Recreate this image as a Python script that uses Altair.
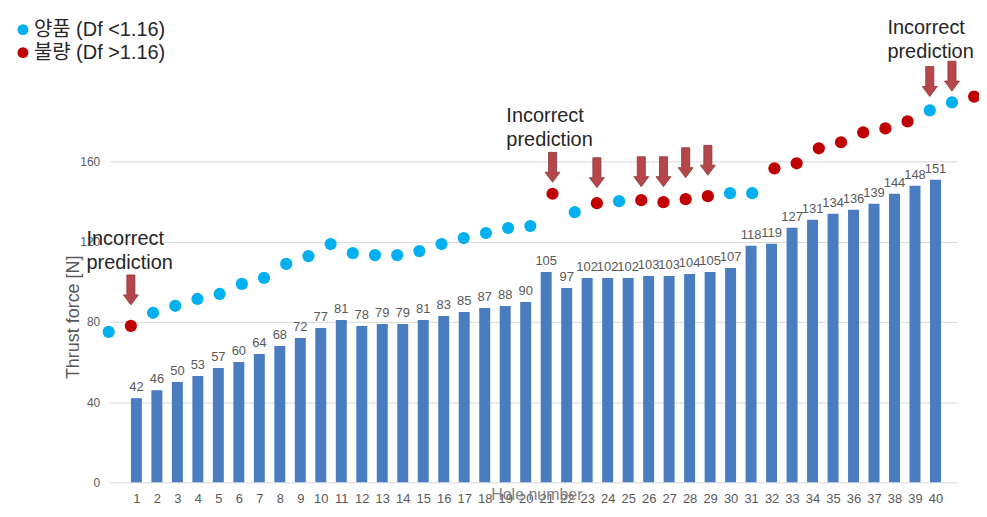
import altair as alt
import pandas as pd

# ---------------- data ----------------
holes = [1, 2, 3, 4, 5, 6, 7, 8, 9, 10, 11, 12, 13, 14, 15, 16, 17, 18, 19, 20,
         21, 22, 23, 24, 25, 26, 27, 28, 29, 30, 31, 32, 33, 34, 35, 36, 37, 38, 39, 40]
thrust = [42, 46, 50, 53, 57, 60, 64, 68, 72, 77, 81, 78, 79, 79, 81, 83, 85, 87, 88, 90,
          105, 97, 102, 102, 102, 103, 103, 104, 105, 107, 118, 119, 127, 131, 134, 136, 139, 144, 148, 151]

# overlay dots (classification result), read on the same force axis
dot_force = [75.1, 78.1, 84.6, 88.1, 91.5, 94.0, 99.0, 102.0, 109.0, 112.9,
             118.9, 114.4, 113.4, 113.4, 115.4, 118.9, 121.9, 124.4, 126.9, 127.9,
             144.0, 134.8, 139.3, 140.3, 140.8, 139.8, 141.3, 142.8, 144.3, 144.3,
             156.7, 159.2, 166.7, 169.7, 174.6, 176.6, 180.1, 185.6, 189.6, 192.5]
dot_class = ["g", "b", "g", "g", "g", "g", "g", "g", "g", "g",
             "g", "g", "g", "g", "g", "g", "g", "g", "g", "g",
             "b", "g", "b", "g", "b", "b", "b", "b", "g", "g",
             "b", "b", "b", "b", "b", "b", "b", "g", "g", "b"]

arrow_holes = [2, 21, 23, 25, 26, 27, 28, 38, 39]
arrow_force = [96.0, 157.2, 154.5, 155.0, 155.0, 159.5, 160.7, 200.0, 202.7]

note_hole = [0.0, 18.92, 36.09]
note_force = [118.4, 179.6, 223.9]
note_text = ["Incorrect\nprediction", "Incorrect\nprediction", "Incorrect\nprediction"]

GOOD = "양품 (Df <1.16)"
BAD = "불량 (Df >1.16)"

y_ticks = [0, 40, 80, 120, 160]

# ---------------- tables ----------------
bars_df = pd.DataFrame({"hole": holes, "thrust": thrust})
dots_df = pd.DataFrame({"hole": holes, "thrust": dot_force,
                        "class": [GOOD if c == "g" else BAD for c in dot_class]})
arrows_df = pd.DataFrame({"hole": arrow_holes, "thrust": arrow_force})
notes_df = pd.DataFrame({"hole": note_hole, "thrust": note_force, "text": note_text})

FONT = "Liberation Sans, Arial, Noto Sans CJK KR, sans-serif"

y_scale = alt.Scale(domain=[0, 200], nice=False, zero=True)
x_main = alt.Scale(domain=[-0.06, 40.81], nice=False, zero=False)
x_dot = alt.Scale(domain=[1.045, 39.23], nice=False, zero=False)

y_axis = alt.Axis(values=y_ticks, title="Thrust force [N]", grid=True, gridColor="#d9d9d9",
                  domain=False, ticks=False, labelPadding=10, labelFontSize=12,
                  labelColor="#595959", labelFont=FONT, titleFont=FONT, titleFontSize=18,
                  titleColor="#595959", titleFontWeight="normal", titleX=-27, titleY=236)
x_axis = alt.Axis(values=holes, format="d", title="Hole number", grid=False, domain=False,
                  ticks=False, labelPadding=10, labelFontSize=13, labelColor="#595959",
                  labelFont=FONT, labelOverlap=False, labelFlush=False, titleFont=FONT,
                  titleFontSize=16, titleColor="#7f7f7f", titleFontWeight="normal",
                  titleX=428, titleY=12, titleBaseline="middle")

Y = alt.Y("thrust:Q", scale=y_scale, axis=y_axis)

bars = alt.Chart(bars_df).mark_bar(size=11, color="#4a7dc0", orient="vertical").encode(
    x=alt.X("hole:Q", scale=x_main, axis=x_axis), y=Y)
bar_labels = alt.Chart(bars_df).mark_text(
    dy=-7, baseline="alphabetic", fontSize=13, font=FONT, color="#595959").encode(
    x=alt.X("hole:Q", scale=x_main, axis=x_axis), y=Y, text="thrust:Q")

dots = alt.Chart(dots_df).mark_circle(size=150, opacity=1).encode(
    x=alt.X("hole:Q", scale=x_dot, axis=None), y=Y,
    color=alt.Color("class:N",
                    scale=alt.Scale(domain=[GOOD, BAD], range=["#00b0f0", "#c00000"]),
                    legend=alt.Legend(title=None, orient="none", legendX=-97, legendY=-62,
                                      symbolType="circle", symbolSize=120, symbolOpacity=1,
                                      symbolStrokeWidth=0, labelFontSize=20, labelFont=FONT,
                                      labelColor="#262626", labelOffset=1, rowPadding=3,
                                      padding=0, labelLimit=300)))

ARROW = "M-0.27,-1 L0.27,-1 L0.27,0.33 L0.5,0.33 L0,1 L-0.5,0.33 L-0.27,0.33 Z"
arrows = alt.Chart(arrows_df).mark_point(
    shape=ARROW, size=900, filled=True, fill="#b5474b", stroke="#8b3538",
    strokeWidth=0.8, opacity=1).encode(
    x=alt.X("hole:Q", scale=x_dot, axis=None), y=Y)

notes = alt.Chart(notes_df).mark_text(
    align="left", baseline="alphabetic", fontSize=20, font=FONT, color="#262626",
    lineBreak="\n", lineHeight=24).encode(
    x=alt.X("hole:Q", scale=x_dot, axis=None), y=Y, text="text:N")

chart = alt.layer(
    alt.layer(bars, bar_labels),
    alt.layer(dots, arrows, notes),
).resolve_scale(x="independent").properties(
    width=850, height=402,
    autosize=alt.AutoSizeParams(type="none"),
    padding={"left": 102, "top": 73, "right": 22, "bottom": 26},
).configure_view(stroke=None)

chart.save("out.html", embed_options={"renderer": "svg", "actions": False})
